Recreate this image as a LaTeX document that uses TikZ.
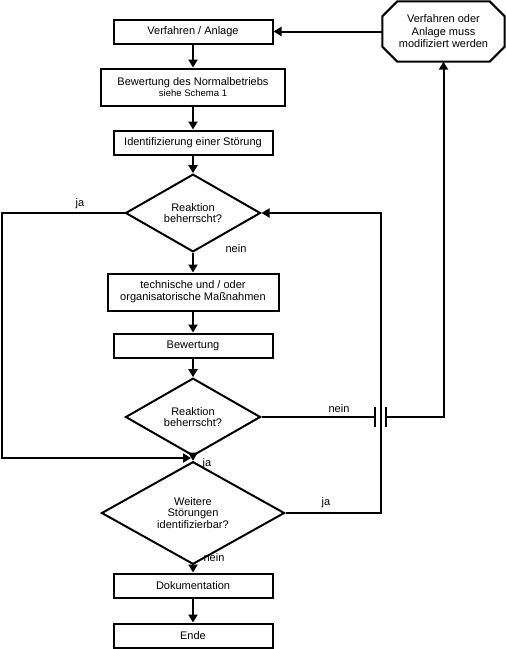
\documentclass[tikz,border=0pt]{standalone}
\usepackage{fontspec}
\setmainfont{Liberation Sans}
\usetikzlibrary{shapes.geometric,arrows.meta}
\begin{document}
\begin{tikzpicture}[x=1pt,y=-1pt,
	box/.style={draw,line width=2pt,inner sep=0pt,minimum width=159pt,minimum height=24pt,align=center,font=\fontsize{11}{12}\selectfont},
	frage/.style={draw,diamond,line width=2pt,inner sep=0pt,minimum width=135pt,minimum height=72pt,align=center,font=\fontsize{11}{11.5}\selectfont},
	pfeil/.style={line width=2pt,-{Triangle[length=8pt,width=9pt]}},
	linie/.style={line width=2pt},
	lbl/.style={font=\fontsize{11}{12}\selectfont,inner sep=0pt}]
			\useasboundingbox (0,0) rectangle (506,649);

			\node[box] (anlage) at (193,31.5) {Verfahren / Anlage};
			\node[box,minimum width=184pt,minimum height=37pt] (normal) at (193,87) {Bewertung des Normalbetriebs\\[-1pt]{\fontsize{9.5}{10}\selectfont siehe Schema 1}};
			\node[box] (stoerung) at (193,142.5) {Identifizierung einer St\"orung};
			\node[frage] (frage1) at (193,213) {Reaktion\\beherrscht?};
			\node[box,minimum width=171pt,minimum height=37pt] (massn) at (193,292) {technische und / oder\\organisatorische Ma\ss nahmen};
			\node[box] (bewert) at (193,345.5) {Bewertung};
			\node[frage] (frage2) at (193,417) {Reaktion\\beherrscht?};
			\node[frage,minimum width=183pt,minimum height=74pt] (frage3) at (193,513) {Weitere\\St\"orungen\\identifizierbar?};
			\node[box] (doku) at (193,585.5) {Dokumentation};
			\node[box] (ende) at (193,635.5) {Ende};
			\node[inner sep=0pt,minimum width=122pt,minimum height=60pt,align=center,font=\fontsize{11}{12.5}\selectfont] (modif) at (443.5,31.5) {Verfahren oder\\Anlage muss\\modifiziert werden};
			% achteck um den text
			\draw[linie] ([xshift=15pt]modif.north west) -- ([xshift=-15pt]modif.north east)
				-- ([yshift=-15pt]modif.north east) -- ([yshift=15pt]modif.south east)
				-- ([xshift=-15pt]modif.south east) -- ([xshift=15pt]modif.south west)
				-- ([yshift=15pt]modif.south west) -- ([yshift=-15pt]modif.north west) -- cycle;

			\coordinate (links1) at (2,213);
			\coordinate (links2) at (2,458);
			\coordinate (treff) at (191,458);
			\coordinate (rechts1) at (381,213);
			\coordinate (rechts2) at (381,513);
			\coordinate (brueckeL) at (375,417);
			\coordinate (brueckeR) at (386,417);
			\coordinate (hoch) at (443.5,417);

			\draw[pfeil] (modif) -- (anlage);
			\draw[pfeil] (anlage) -- (normal);
			\draw[pfeil] (normal) -- (stoerung);
			\draw[pfeil] (stoerung) -- (frage1);
			\draw[pfeil] (frage1) -- (massn);
			\draw[pfeil] (massn) -- (bewert);
			\draw[pfeil] (bewert) -- (frage2);
			\draw[pfeil] (frage2) -- (frage3);
			\draw[pfeil] (frage3) -- (doku);
			\draw[pfeil] (doku) -- (ende);

			\draw[pfeil] (frage1.west) -- (links1) -- (links2) -- (treff);
			\draw[pfeil] (frage3.east) -- (rechts2) -- (rechts1) -- (frage1.east);
			\draw[linie] (frage2.east) -- (brueckeL);
			\draw[linie] ([yshift=-10pt]brueckeL) -- ([yshift=10pt]brueckeL);
			\draw[linie] ([yshift=-10pt]brueckeR) -- ([yshift=10pt]brueckeR);
			\draw[pfeil] (brueckeR) -- (hoch) -- (modif.south);

			\node[lbl] (ja1) at (80,204) {ja};
			\node[lbl] (nein1) at (236,249) {nein};
			\node[lbl] (nein2) at (339,409) {nein};
			\node[lbl] (ja2) at (207,464) {ja};
			\node[lbl] (ja3) at (326,503) {ja};
			\node[lbl] (nein3) at (214,558) {nein};
			\end{tikzpicture}
\end{document}
